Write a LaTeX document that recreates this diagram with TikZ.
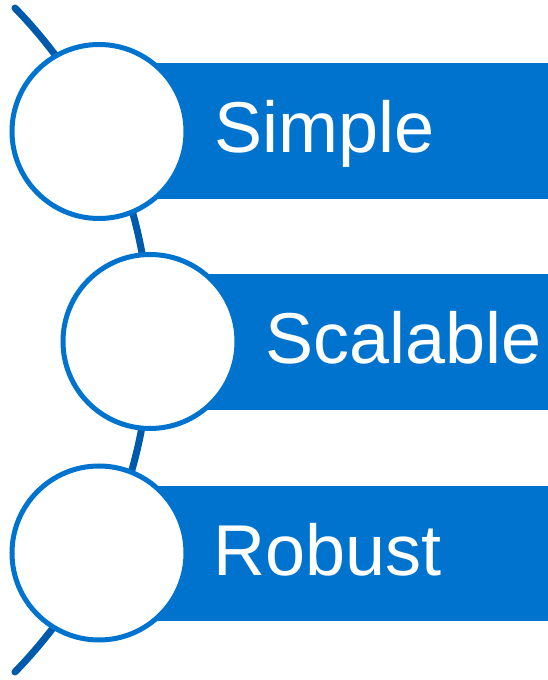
\documentclass[tikz,border=0pt]{standalone}
\usepackage{fontspec}
\setmainfont{Liberation Sans}
\definecolor{barblue}{HTML}{0073CF}
\definecolor{arcblue}{HTML}{005AAB}
\begin{document}
\begin{tikzpicture}[x=1pt,y=1pt,
  bar/.style={fill=barblue,draw=none},
  ring/.style={circle,draw=barblue,line width=5pt,fill=white,minimum size=174pt,inner sep=0pt},
  label/.style={text=white,font=\fontsize{72}{72}\selectfont,anchor=base west,inner sep=0pt},
  spine/.style={draw=arcblue,line width=7pt,line cap=round}]
\useasboundingbox (0,0) rectangle (548,680);
% spine arc
\coordinate (arcstart) at ({-325.7+475.7*cos(44.26)},{340+475.7*sin(44.26)});
\draw[spine] (arcstart) arc[start angle=44.26,end angle=-44.26,radius=475.7] coordinate (arcend);
% bars
\fill[bar] (99,617) rectangle (548,481);
\fill[bar] (150,406) rectangle (548,270);
\fill[bar] (99,194) rectangle (548,59);
% circles
\node[ring] (c1) at (99,548.5) {};
\node[ring] (c2) at (150,338.5) {};
\node[ring] (c3) at (99,127) {};
% labels
\node[label] (t1) at (214,527) {Simple};
\node[label] (t2) at (265,316) {Scalable};
\node[label] (t3) at (213,104.5) {Robust};
\end{tikzpicture}
\end{document}
